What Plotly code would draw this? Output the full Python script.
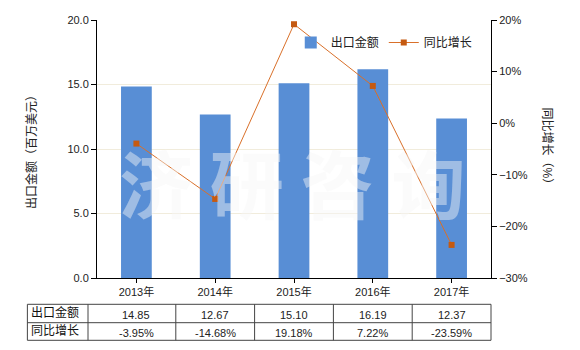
import plotly.graph_objects as go

years = ["2013年", "2014年", "2015年", "2016年", "2017年"]
export_values = [14.85, 12.67, 15.10, 16.19, 12.37]
yoy_growth = [-3.95, -14.68, 19.18, 7.22, -23.59]
row_labels = ["出口金额", "同比增长"]
left_title = "出口金额（百万美元）"
right_title = "同比增长（%）"

W, H = 580, 350
L, R, T, B = 97, 491.5, 20, 278
FONT = "Liberation Sans, Noto Sans CJK SC, sans-serif"


def px_x(px):
    return (px - L) / (R - L)


def px_y(py):
    return (B - py) / (B - T)


fig = go.Figure()
fig.add_trace(go.Bar(
    x=list(range(len(years))), y=export_values, name=row_labels[0],
    marker=dict(color="#588ED5", line=dict(width=0)), width=0.39,
))
fig.add_trace(go.Scatter(
    x=list(range(len(years))), y=yoy_growth, name=row_labels[1], yaxis="y2",
    mode="lines+markers",
    line=dict(color="#D9702A", width=1),
    marker=dict(symbol="square", size=6, color="#C55A11"),
))

shapes = []
annotations = []

# watermark
annotations.append(dict(
    text="济 研 咨 询", x=px_x(292), y=px_y(180), xref="paper", yref="paper",
    xanchor="center", yanchor="middle",
    showarrow=False, font=dict(size=74, color="rgba(246,246,246,0.45)",
                               family="Noto Sans CJK SC", weight=700),
))

# axis titles
annotations.append(dict(
    text=left_title, x=px_x(31), y=px_y(149), xref="paper", yref="paper",
    xanchor="center", yanchor="middle",
    showarrow=False, textangle=-90, font=dict(size=12, color="#222", family=FONT),
))
annotations.append(dict(
    text=right_title, x=px_x(548), y=px_y(149), xref="paper", yref="paper",
    xanchor="center", yanchor="middle",
    showarrow=False, textangle=90, font=dict(size=12, color="#222", family=FONT),
))

# table
n = len(years)
tbl_left, tbl_first = 27.3, 88
row_top, row_mid, row_bot = 304.3, 322.7, 340.3
line_style = dict(color="#444", width=1)
for py in (row_top, row_mid, row_bot):
    shapes.append(dict(type="line", xref="paper", yref="paper",
                       x0=px_x(tbl_left), x1=1, y0=px_y(py), y1=px_y(py), line=line_style))
col_bounds = [px_x(tbl_left), px_x(tbl_first)] + [(i + 1) / n for i in range(n)]
for xb in col_bounds:
    shapes.append(dict(type="line", xref="paper", yref="paper",
                       x0=xb, x1=xb, y0=px_y(row_top), y1=px_y(row_bot), line=line_style))

row_centers = [(row_top + row_mid) / 2, (row_mid + row_bot) / 2]
for r, lab in enumerate(row_labels):
    annotations.append(dict(
        text=lab, x=px_x(tbl_left + 1.5), y=px_y(row_centers[r] - 1), xref="paper", yref="paper",
        xanchor="left", yanchor="middle", showarrow=False,
        font=dict(size=12, color="#111", family=FONT),
    ))
for i in range(n):
    annotations.append(dict(
        text=f"{export_values[i]:.2f}", x=i, y=px_y(row_centers[0] + 1), xref="x", yref="paper",
        xanchor="center", yanchor="middle",
        showarrow=False, font=dict(size=11, color="#222", family=FONT),
    ))
    annotations.append(dict(
        text=f"{yoy_growth[i]:.2f}%", x=i, y=px_y(row_centers[1] + 1), xref="x", yref="paper",
        xanchor="center", yanchor="middle",
        showarrow=False, font=dict(size=11, color="#222", family=FONT),
    ))

fig.update_layout(
    width=W, height=H,
    margin=dict(l=L, r=W - R, t=T, b=H - B, pad=0),
    paper_bgcolor="white", plot_bgcolor="white",
    font=dict(family=FONT, size=11, color="#222"),
    showlegend=True,
    legend=dict(orientation="h", x=px_x(291), y=px_y(28), xanchor="left", yanchor="top",
                bgcolor="rgba(0,0,0,0)", font=dict(size=12, color="#222"),
                itemwidth=30, tracegroupgap=0),
    xaxis=dict(
        range=[-0.5, n - 0.5], tickmode="array", tickvals=list(range(n)), ticktext=years,
        showline=True, linecolor="black", linewidth=1, ticks="outside", ticklen=4,
        tickcolor="black", showgrid=False, zeroline=False, fixedrange=True,
    ),
    yaxis=dict(
        range=[0, 20], dtick=5, tickformat=".1f", showline=True, linecolor="black",
        linewidth=1, ticks="outside", ticklen=5, tickcolor="black",
        showgrid=True, gridcolor="#F1ECDC", gridwidth=1, zeroline=False,
    ),
    yaxis2=dict(
        range=[-30, 20], dtick=10, ticksuffix="%", overlaying="y", side="right",
        showline=True, linecolor="black", linewidth=1, ticks="outside", ticklen=5,
        tickcolor="black", showgrid=False, zeroline=False,
    ),
    shapes=shapes,
    annotations=annotations,
    bargap=0.6,
)

fig.write_html("out.html")
